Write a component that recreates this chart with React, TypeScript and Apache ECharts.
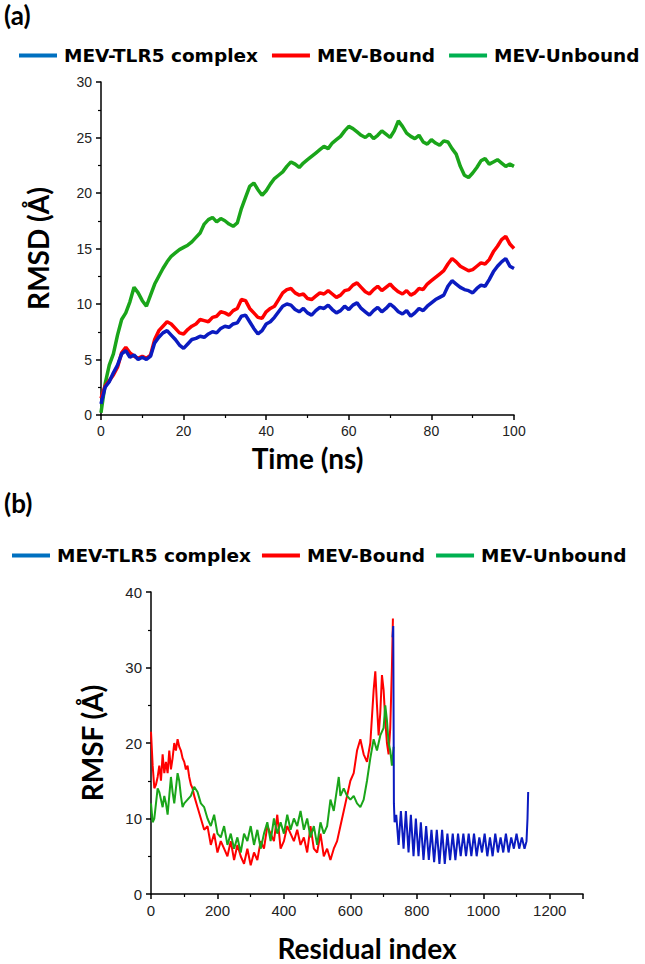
import React, { useEffect, useRef } from "react";
import * as echarts from "echarts";

// ---------- labels ----------
const legendNames = ["MEV-TLR5 complex", "MEV-Bound", "MEV-Unbound"];
const panelLabels = ["(a)", "(b)"];
const rmsdAxisTitle = "RMSD (Å)";
const rmsfAxisTitle = "RMSF (Å)";
const timeAxisTitle = "Time (ns)";
const residueAxisTitle = "Residual index";

// ---------- panel (a): RMSD vs time, one value per ns from 0 to 100 ----------
const TIME_STEP_NS = 1;
const rmsdComplex = [
  1.0, 2.5, 3.0, 3.8, 4.5, 5.5, 5.8, 5.2, 5.4, 5.0,
  5.2, 5.0, 5.3, 6.5, 7.0, 7.4, 7.6, 7.2, 6.8, 6.3,
  6.0, 6.4, 6.8, 6.9, 7.1, 7.0, 7.3, 7.5, 7.4, 7.8,
  8.0, 7.9, 8.2, 8.3, 8.9, 9.0, 8.4, 7.8, 7.3, 7.6,
  8.2, 8.4, 8.8, 9.3, 9.8, 10.0, 9.9, 9.5, 9.3, 9.6,
  9.2, 9.0, 9.4, 9.7, 9.6, 9.9, 9.5, 9.2, 9.4, 9.8,
  9.5, 9.9, 10.1, 9.6, 9.3, 9.0, 9.4, 9.7, 9.3, 9.6,
  10.0, 9.7, 9.3, 9.1, 9.4, 8.9, 9.2, 9.6, 9.4, 9.8,
  10.1, 10.4, 10.6, 10.8, 11.6, 12.1, 11.8, 11.5, 11.3, 11.2,
  11.0, 11.4, 11.7, 11.6, 12.2, 12.9, 13.4, 13.8, 14.1, 13.4,
  13.2,
];
const rmsdBound = [
  1.5, 2.6, 3.1, 3.6, 4.3, 5.6, 6.1, 5.6, 5.3, 5.1,
  5.3, 5.1, 5.4, 6.8, 7.6, 8.0, 8.4, 8.2, 7.8, 7.4,
  7.3, 7.7, 8.0, 8.2, 8.6, 8.5, 8.4, 8.8, 8.9, 9.3,
  9.2, 9.0, 9.4, 9.6, 10.4, 10.3, 9.6, 9.2, 8.8, 8.7,
  9.3, 9.6, 9.8, 10.4, 11.0, 11.3, 11.4, 11.0, 10.8, 10.9,
  10.5, 10.4, 10.7, 11.0, 10.9, 11.2, 10.9, 10.6, 10.8, 11.2,
  11.3, 11.7, 11.9, 11.5, 11.1, 10.9, 11.3, 11.6, 11.2, 11.5,
  11.8, 11.4, 11.1, 10.9, 11.2, 10.8, 11.0, 11.4, 11.3, 11.8,
  12.1, 12.4, 12.7, 13.0, 13.6, 14.1, 13.8, 13.4, 13.2, 13.0,
  13.1, 13.4, 13.7, 13.6, 14.0, 14.7, 15.2, 15.8, 16.1, 15.4,
  15.0,
];
const rmsdUnbound = [
  0.2, 2.8, 4.5, 5.5, 7.2, 8.6, 9.2, 10.2, 11.5, 11.0,
  10.3, 9.8, 10.8, 11.8, 12.5, 13.2, 13.8, 14.3, 14.6, 14.9,
  15.1, 15.3, 15.6, 16.0, 16.4, 17.2, 17.6, 17.8, 17.4, 17.7,
  17.5, 17.2, 17.0, 17.3, 18.6, 19.6, 20.6, 20.9, 20.3, 19.8,
  20.2, 20.8, 21.3, 21.6, 21.9, 22.4, 22.8, 22.6, 22.3, 22.7,
  23.0, 23.3, 23.6, 23.9, 24.2, 24.0, 24.5, 24.8, 25.1, 25.6,
  26.0, 25.8, 25.5, 25.2, 25.0, 25.3, 24.9, 25.2, 25.6, 25.3,
  25.0, 25.6, 26.5, 26.0, 25.4, 25.1, 24.9, 25.2, 24.6, 24.4,
  24.8, 24.5, 24.3, 24.7, 24.6, 24.0, 23.5, 22.4, 21.6, 21.4,
  21.8, 22.3, 22.9, 23.1, 22.6, 22.8, 23.0, 22.7, 22.4, 22.6,
  22.4,
];

// ---------- panel (b): RMSF vs residue ----------
const boundResidues = [
  0, 5, 10, 15, 20, 25, 30, 35, 40, 45, 50, 55, 60, 65, 70, 75, 80, 85, 90, 95,
  100, 105, 110, 115, 120, 125, 130, 140, 150, 160, 170, 180, 190, 200, 210, 220,
  230, 240, 250, 260, 270, 280, 290, 300, 310, 320, 330, 340, 350, 360, 370, 380,
  390, 400, 410, 420, 430, 440, 450, 460, 470, 480, 490, 500, 510, 520, 530, 540,
  550, 560, 570, 580, 590, 600, 610, 620, 630, 640, 650, 660, 670, 675, 680, 685,
  690, 695, 700, 705, 710, 715, 720, 725, 728,
];
const rmsfBound = [
  21.5, 17, 14, 14.5, 15.5, 17, 15, 18.5, 16, 17.5, 16, 19, 16.5, 18, 20, 19, 20.5, 19.5, 19, 18,
  17.5, 16.5, 17, 15.5, 14.5, 14, 13, 11.5, 10, 8.5, 9, 6.5, 8, 5.5, 7, 6,
  5, 7, 4.5, 6.5, 5, 4, 6, 3.8, 5.5, 4.5, 7, 6, 9, 8, 7, 10.5,
  6, 7, 9, 8, 7, 8.5, 6.5, 7.5, 5.5, 9, 6, 5.5, 8, 5, 6, 4.5,
  6, 7, 9, 11, 13, 15, 16, 19, 20.5, 18.5, 17.5, 20, 27, 29.5, 25, 21,
  24, 29, 27, 23, 20, 18.5, 22, 30, 36.5,
];
const unboundResidues = [
  0, 5, 10, 15, 20, 25, 30, 35, 40, 45, 50, 55, 60, 65, 70, 75, 80, 85, 90, 95,
  100, 110, 120, 130, 140, 150, 160, 170, 180, 190, 200, 210, 220, 230, 240, 250,
  260, 270, 280, 290, 300, 310, 320, 330, 340, 350, 360, 370, 380, 390, 400, 410,
  420, 430, 440, 450, 460, 470, 480, 490, 500, 510, 520, 530, 540, 550, 560, 565,
  570, 580, 590, 600, 610, 620, 630, 640, 650, 660, 670, 680, 690, 700, 705, 710,
  715, 720, 725, 730,
];
const rmsfUnbound = [
  12, 9.5, 10, 12, 14, 13.5, 12.5, 11.5, 13, 12, 10.5, 13, 15.5, 13.5, 12, 14, 16, 15, 13, 11.5,
  12, 12.5, 13, 14.2, 13.5, 12, 11.5, 10, 9, 10.5, 8, 7.5, 9, 6.5, 8, 6,
  7.5, 5.5, 8, 7, 9, 6.5, 8.5, 6, 8, 9.5, 7, 10, 8, 9.5, 8, 10.5,
  8.5, 10, 9, 11, 8.5, 10, 7.5, 9, 6.5, 9.5, 8, 9, 12.5, 11, 14, 15.5,
  13, 14, 13, 12.5, 13, 12, 11.5, 12.5, 15, 18, 20.5, 19, 21, 22, 25, 23,
  20, 19, 17, 19.5,
];
const complexResidues = [
  727, 729, 731, 733, 738, 745, 752, 760, 767, 775, 782, 790, 797, 805, 812, 820,
  828, 836, 844, 852, 860, 868, 876, 884, 892, 900, 908, 916, 924, 932, 940, 948,
  956, 964, 972, 980, 988, 996, 1004, 1012, 1020, 1028, 1036, 1044, 1052, 1060,
  1068, 1076, 1084, 1092, 1100, 1108, 1116, 1124, 1130, 1133, 1135,
];
const rmsfComplex = [
  34, 35.5, 12, 9.5, 10.5, 6.5, 11, 6, 11, 5.5, 10.5, 5, 10, 5, 9.5, 4.5,
  9, 4.5, 8.5, 4.2, 8.5, 4, 8.5, 4, 8, 4.5, 8, 4.5, 8, 5, 8, 5,
  8, 5, 8, 5, 7.5, 5.5, 8, 5, 7.5, 5, 8, 5.5, 7.5, 5.5,
  8, 5.5, 7.5, 6, 8, 6, 7.5, 6, 7, 10, 13.5,
];

// ---------- colours ----------
const legendColors = ["#0070C0", "#FF0000", "#00B050"];
const lineColors = ["#0B1BC0", "#FF0000", "#1AA51A"];

const FONT_TEXT = "Lato, 'Open Sans', sans-serif";
const FONT_LEGEND = "'DejaVu Sans', Verdana, sans-serif";
const FONT_TICK = "'Liberation Sans', Arial, sans-serif";

function pairs(xs: number[], ys: number[]) {
  return ys.map((y, i) => [xs[i], y]);
}
function timeSeries(ys: number[]) {
  return ys.map((y, i) => [i * TIME_STEP_NS, y]);
}

function axisCommon() {
  return {
    axisLine: { show: true, onZero: false, lineStyle: { color: "#000", width: 1.5 } },
    axisTick: { show: true, inside: false, length: 5, lineStyle: { color: "#000", width: 1.5 } },
    minorTick: { show: true, splitNumber: 2, length: 3, lineStyle: { color: "#000", width: 1.2 } },
    splitLine: { show: false },
    minorSplitLine: { show: false },
    axisLabel: {
      color: "#222",
      fontSize: 14,
      fontFamily: FONT_TICK,
      margin: 9,
      formatter: (v: number) => String(v),
    },
    nameTextStyle: { color: "#000", fontSize: 28, fontWeight: "bold", fontFamily: FONT_TEXT },
  };
}

function legendCfg(left: number, top: number, gap: number) {
  return {
    left,
    top,
    width: 640,
    orient: "horizontal",
    icon: "rect",
    itemWidth: 38,
    itemHeight: 4,
    itemGap: gap,
    selectedMode: false,
    textStyle: { color: "#000", fontSize: 18.5, fontWeight: "bold", fontFamily: FONT_LEGEND, padding: [0, 0, 0, 2] },
    data: legendNames.map((n, i) => ({ name: n, itemStyle: { color: legendColors[i] }, lineStyle: { color: legendColors[i] } })),
  };
}

export default function App() {
  const ref = useRef<HTMLDivElement>(null);
  useEffect(() => {
    if (!ref.current) return;
    const chart = echarts.init(ref.current, undefined, { renderer: "svg" });
    const lineSeries = (name: string, color: string, data: number[][], axis: number, width: number, z: number) => ({
      type: "line",
      name,
      data,
      xAxisIndex: axis,
      yAxisIndex: axis,
      showSymbol: false,
      symbol: "none",
      z,
      lineStyle: { color, width },
      itemStyle: { color },
    });
    chart.setOption({
      animation: false,
      backgroundColor: "#fff",
      graphic: [
        { type: "text", left: 4, top: 2, style: { text: panelLabels[0], fontSize: 26, fontWeight: "bold", fontFamily: FONT_TEXT, fill: "#000" } },
        { type: "text", left: 4, top: 490, style: { text: panelLabels[1], fontSize: 26, fontWeight: "bold", fontFamily: FONT_TEXT, fill: "#000" } },
      ],
      legend: [legendCfg(14, 41, 14), legendCfg(7, 541, 11)],
      grid: [
        { left: 101, top: 82, width: 413, height: 333 },
        { left: 151, top: 592, width: 432, height: 302 },
      ],
      xAxis: [
        {
          ...axisCommon(), type: "value", gridIndex: 0, min: 0, max: 100, interval: 20,
          name: timeAxisTitle, nameLocation: "middle", nameGap: 29,
        },
        {
          ...axisCommon(), type: "value", gridIndex: 1, min: 0, max: 1300, interval: 200,
          name: residueAxisTitle, nameLocation: "middle", nameGap: 40,
          axisLabel: { ...axisCommon().axisLabel, fontSize: 15, showMaxLabel: false },
        },
      ],
      yAxis: [
        {
          ...axisCommon(), type: "value", gridIndex: 0, min: 0, max: 30, interval: 5,
          name: rmsdAxisTitle, nameLocation: "middle", nameGap: 49,
        },
        {
          ...axisCommon(), type: "value", gridIndex: 1, min: 0, max: 40, interval: 10,
          name: rmsfAxisTitle, nameLocation: "middle", nameGap: 45,
          axisLabel: { ...axisCommon().axisLabel, fontSize: 15 },
        },
      ],
      series: [
        lineSeries(legendNames[2], lineColors[2], timeSeries(rmsdUnbound), 0, 3.5, 2),
        lineSeries(legendNames[1], lineColors[1], timeSeries(rmsdBound), 0, 3.5, 3),
        lineSeries(legendNames[0], lineColors[0], timeSeries(rmsdComplex), 0, 3.5, 4),
        lineSeries(legendNames[1], lineColors[1], pairs(boundResidues, rmsfBound), 1, 2, 2),
        lineSeries(legendNames[2], lineColors[2], pairs(unboundResidues, rmsfUnbound), 1, 2, 3),
        lineSeries(legendNames[0], lineColors[0], pairs(complexResidues, rmsfComplex), 1, 2, 4),
      ],
    });
    return () => chart.dispose();
  }, []);
  return (
    <div
      ref={ref}
      style={{ position: "absolute", left: 0, top: 0, width: 645, height: 964 }}
    />
  );
}
